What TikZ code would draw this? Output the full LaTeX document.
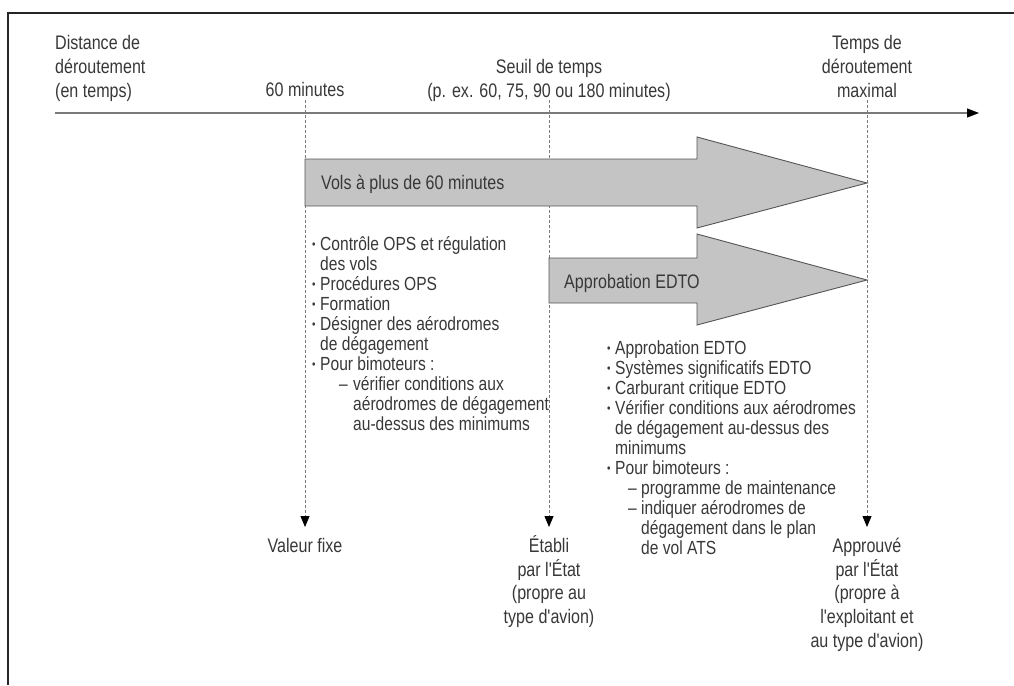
\documentclass[tikz,border=0pt]{standalone}
\usepackage{fontspec}
\newfontfamily\nf[FakeStretch=0.82]{Liberation Sans}
\usetikzlibrary{arrows.meta}
\definecolor{txt}{HTML}{383838}
\definecolor{arrfill}{HTML}{C4C4C4}
\definecolor{arrline}{HTML}{555555}
\definecolor{axis}{HTML}{7A7A7A}
\newcommand{\bul}{\makebox[8pt][l]{\raisebox{2pt}{\fontsize{12}{12}\selectfont •}}}
\newcommand{\cont}{\hspace*{8pt}}
\begin{document}
\begin{tikzpicture}[x=1pt,y=-1pt,
  lbl/.style={inner sep=0pt, text=txt, font=\nf\fontsize{19.6}{23.7}\selectfont},
  lst/.style={inner sep=0pt, text=txt, font=\nf\fontsize{19}{20}\selectfont},
  blockarrow/.style={fill=arrfill, draw=arrline, line width=0.9pt},
  guide/.style={draw=axis, line width=0.8pt, dash pattern=on 3pt off 2pt, -{Triangle[length=11pt,width=9pt,black]}},
  frameline/.style={draw=black!85, line width=2.6pt}]
\useasboundingbox (0,0) rectangle (1014,685);
% frame
\coordinate (fa) at (8,685);
\coordinate (fb) at (8,13);
\coordinate (fc) at (1014,13);
\draw[frameline] (fa) -- (fb) -- (fc);
% timeline
\coordinate (ax0) at (55,113);
\coordinate (ax1) at (979,113);
\draw[draw=axis, line width=1.2pt, -{Triangle[length=12pt,width=9pt,black]}] (ax0) -- (ax1);
% header labels
\node[lbl, anchor=base west] (hdist) at (55,50) {\begin{tabular}[t]{@{}l@{}}Distance de\\déroutement\\(en temps)\end{tabular}};
\node[lbl, anchor=base] (h60) at (305,96.5) {60 minutes};
\node[lbl, anchor=base] (hseuil) at (549,73.5) {\begin{tabular}[t]{@{}c@{}}Seuil de temps\\(p. ex. 60, 75, 90 ou 180 minutes)\end{tabular}};
\node[lbl, anchor=base] (hmax) at (867,50) {\begin{tabular}[t]{@{}c@{}}Temps de\\déroutement\\maximal\end{tabular}};
% guide lines
\coordinate (g1t) at (305,100);
\coordinate (g1b) at (305,527);
\coordinate (g2t) at (549,100);
\coordinate (g2b) at (549,527);
\coordinate (g3t) at (867,100);
\coordinate (g3b) at (867,527);
\draw[guide] (g1t) -- (g1b);
\draw[guide] (g2t) -- (g2b);
\draw[guide] (g3t) -- (g3b);
% block arrows
\draw[blockarrow] (305,159) -- (697,159) -- (697,137) -- (867,183) -- (697,228) -- (697,206) -- (305,206) -- cycle;
\draw[blockarrow] (549,258) -- (697,258) -- (697,234) -- (867,280) -- (697,325) -- (697,303) -- (549,303) -- cycle;
\node[lbl, anchor=base west] (a1) at (321,189) {Vols à plus de 60 minutes};
\node[lbl, anchor=base west] (a2) at (564,288) {Approbation EDTO};
% list 1
\node[lst, anchor=base west] (list1) at (312,250) {\begin{tabular}[t]{@{}l@{}}
\bul Contrôle OPS et régulation\\
\cont des vols\\
\bul Procédures OPS\\
\bul Formation\\
\bul Désigner des aérodromes\\
\cont de dégagement\\
\bul Pour bimoteurs :\\
\hspace*{27pt}\makebox[14pt][l]{–}vérifier conditions aux\\
\hspace*{41pt}aérodromes de dégagement\\
\hspace*{41pt}au-dessus des minimums
\end{tabular}};
% list 2
\node[lst, anchor=base west] (list2) at (607,354) {\begin{tabular}[t]{@{}l@{}}
\bul Approbation EDTO\\
\bul Systèmes significatifs EDTO\\
\bul Carburant critique EDTO\\
\bul Vérifier conditions aux aérodromes\\
\cont de dégagement au-dessus des\\
\cont minimums\\
\bul Pour bimoteurs :\\
\hspace*{21pt}\makebox[13pt][l]{–}programme de maintenance\\
\hspace*{21pt}\makebox[13pt][l]{–}indiquer aérodromes de\\
\hspace*{34pt}dégagement dans le plan\\
\hspace*{34pt}de vol ATS
\end{tabular}};
% bottom labels
\node[lbl, anchor=base] (bfix) at (305,552) {Valeur fixe};
\node[lbl, anchor=base] (betat) at (549,552) {\begin{tabular}[t]{@{}c@{}}Établi\\par l'État\\(propre au\\type d'avion)\end{tabular}};
\node[lbl, anchor=base] (bappr) at (867,552) {\begin{tabular}[t]{@{}c@{}}Approuvé\\par l'État\\(propre à\\l'exploitant et\\au type d'avion)\end{tabular}};
\end{tikzpicture}
\end{document}
